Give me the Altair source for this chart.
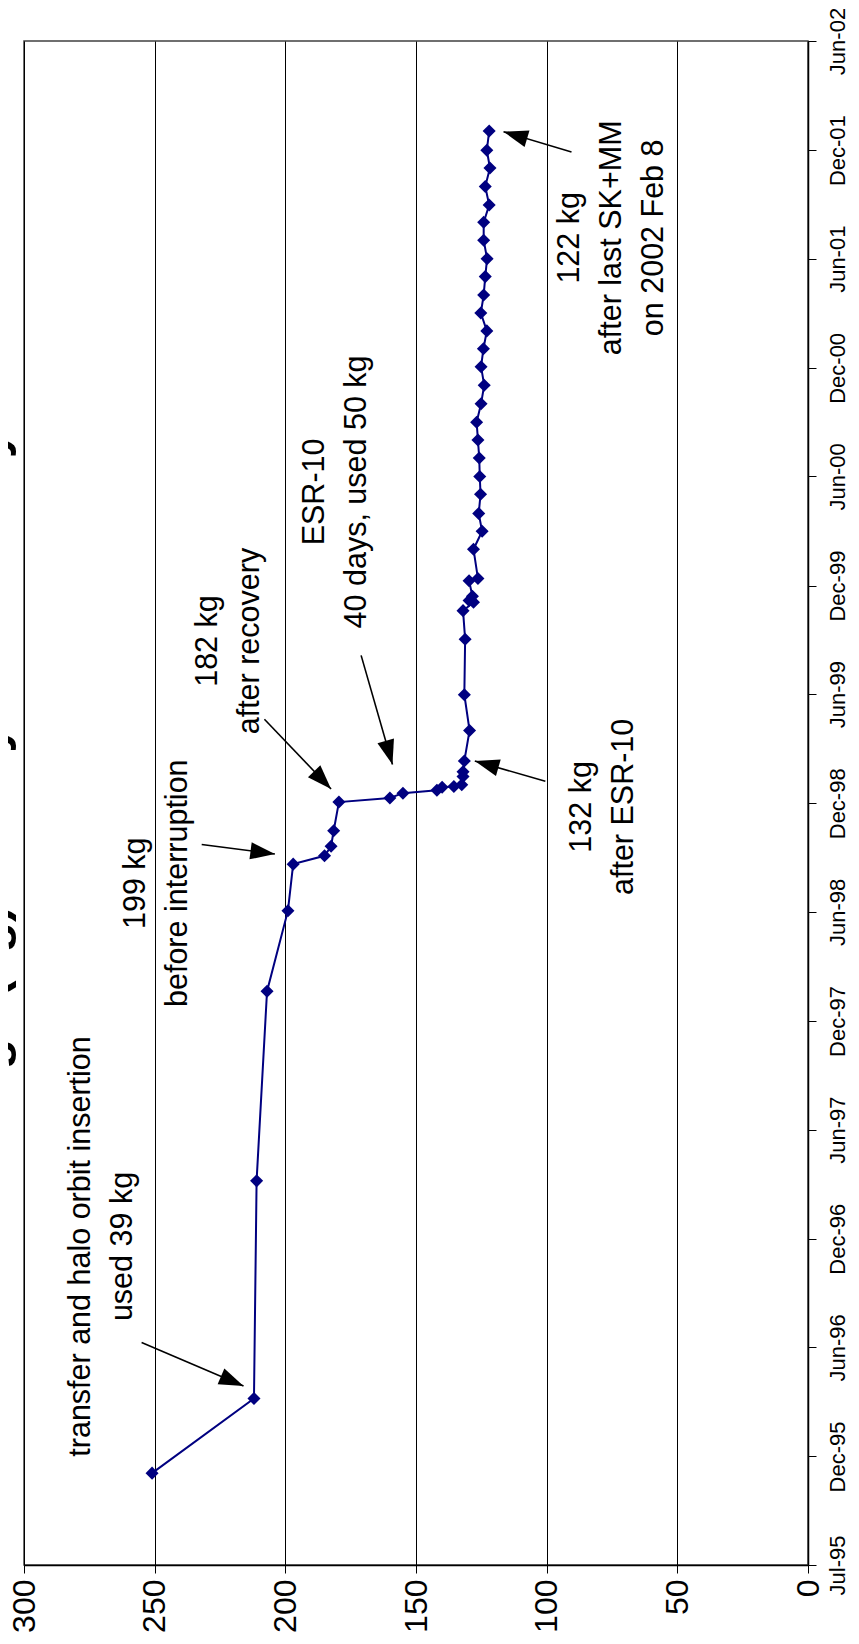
import math
import datetime as dt
import altair as alt
import pandas as pd

# ---------------- data ----------------
dates = ["1995-12-02", "1996-04-05", "1997-04-05", "1998-02-17", "1998-07-02", "1998-09-18",
         "1998-10-02", "1998-10-18", "1998-11-13", "1998-12-31", "1999-01-07", "1999-01-15",
         "1999-01-20", "1999-01-25", "1999-01-26", "1999-01-29", "1999-02-12", "1999-02-20",
         "1999-03-10", "1999-04-30", "1999-06-29", "1999-09-30", "1999-11-17", "1999-12-01",
         "1999-12-04", "1999-12-11", "2000-01-06", "2000-01-10", "2000-02-28", "2000-03-29",
         "2000-04-28", "2000-05-30", "2000-06-29", "2000-07-30", "2000-08-29", "2000-09-28",
         "2000-10-29", "2000-11-29", "2000-12-30", "2001-01-29", "2001-02-28", "2001-03-30",
         "2001-04-29", "2001-05-30", "2001-06-29", "2001-07-30", "2001-08-29", "2001-09-27",
         "2001-10-28", "2001-11-28", "2001-12-28", "2002-01-29"]
fuel = [251, 212, 211, 207, 199, 197,
        185, 182.5, 181.5, 179.5, 160, 155,
        142, 140, 135.5, 132.5, 132, 132,
        131.5, 129.5, 131.5, 131.2, 132, 128,
        129.7, 128.4, 129.7, 126.3, 128, 124.7,
        126, 125.3, 125.6, 125.8, 126.3, 126.8,
        125.1, 123.9, 125.1, 124.2, 122.9, 125.2,
        124.1, 123.5, 122.8, 124.1, 124.1, 122,
        123.5, 121.7, 122.9, 122]

tick_dates = ["1995-07-01", "1995-12-30", "1996-06-30", "1996-12-29", "1997-06-30",
              "1997-12-29", "1998-06-30", "1998-12-29", "1999-06-30", "1999-12-29",
              "2000-06-29", "2000-12-28", "2001-06-29", "2001-12-28", "2002-06-29"]
value_ticks = [0, 50, 100, 150, 200, 250, 300]

note_texts = ["transfer and halo orbit insertion\nused 39 kg",
              "199 kg\nbefore interruption",
              "182 kg\nafter recovery",
              "ESR-10\n40 days, used 50 kg",
              "132 kg\nafter ESR-10",
              "122 kg\nafter last SK+MM\non 2002 Feb 8"]
note_dates = ["1996-12-16", "1998-08-17", "1999-09-27", "2000-06-03", "1998-12-23", "2001-08-03"]
note_values = [278, 257, 229.5, 188.5, 86.5, 91]

arrow_start_dates = ["1996-07-08", "1998-10-21", "1999-05-19", "1999-09-03", "1999-02-04", "2001-12-25"]
arrow_start_values = [255, 232, 208, 171, 100.5, 90.5]
arrow_tip_dates = ["1996-04-26", "1998-10-05", "1999-01-22", "1999-03-04", "1999-03-10", "2002-01-28"]
arrow_tip_values = [216, 204, 182.5, 159, 127.5, 116.5]

title_text = "Fuel usage (kg) history of SOHO by month"

# ---------------- layout / style ----------------
W, H = 784, 1524
NAVY = "#000080"
SANS = "Liberation Sans, Arial, sans-serif"


def parse(s):
    return dt.date.fromisoformat(s)


def dtobj(s):
    d = parse(s)
    return alt.DateTime(year=d.year, month=d.month, date=d.day, utc=True)


d0, d1 = parse(tick_dates[0]), parse(tick_dates[-1])
px_day = H / (d1 - d0).days
px_kg = W / 300.0

angles = []
for sd, sv, td, tv in zip(arrow_start_dates, arrow_start_values, arrow_tip_dates, arrow_tip_values):
    dx = -(tv - sv) * px_kg
    dy = -((parse(td) - parse(sd)).days) * px_day
    angles.append(math.degrees(math.atan2(dx, -dy)) % 360)

df = pd.DataFrame({"date": dates, "value": fuel, "i": list(range(len(dates)))})
notes = pd.DataFrame({"date": note_dates, "value": note_values, "text": note_texts})
arrows = pd.DataFrame({"date": arrow_start_dates, "value": arrow_start_values,
                       "date2": arrow_tip_dates, "value2": arrow_tip_values})
heads = pd.DataFrame({"date": arrow_tip_dates, "value": arrow_tip_values, "angle": angles})
title_df = pd.DataFrame({"t": [title_text]})

x_enc = alt.X("value:Q",
              scale=alt.Scale(domain=[0, 300], reverse=True, nice=False, zero=False),
              axis=alt.Axis(values=value_ticks, title=None, labelAngle=270, labelAlign="right",
                            labelBaseline="middle", labelFontSize=32, labelFont=SANS,
                            labelColor="black", labelPadding=6, labelFlush=False,
                            labelOverlap=False, tickSize=8, tickColor="black",
                            domainColor="black", domainWidth=1.5, grid=True,
                            gridColor="black", gridWidth=1))
y_enc = alt.Y("date:T",
              scale=alt.Scale(type="utc", domain=[dtobj(tick_dates[0]), dtobj(tick_dates[-1])], nice=False),
              axis=alt.Axis(orient="right", values=[dtobj(s) for s in tick_dates],
                            labelExpr="utcFormat(datum.value, '%b-%y')",
                            title=None, labelAngle=270, labelAlign="center",
                            labelBaseline="top", labelFontSize=22, labelFont=SANS,
                            labelColor="black", labelPadding=11, labelFlush=False,
                            labelOverlap=False, tickSize=8, tickColor="black",
                            domainColor="black", domainWidth=1.5, grid=False))

line = alt.Chart(df).mark_line(color=NAVY, strokeWidth=2).encode(
    x=x_enc, y=y_enc, order=alt.Order("i:Q"))
pts = alt.Chart(df).mark_point(shape="diamond", filled=True, size=170, color=NAVY,
                               opacity=1, strokeWidth=0).encode(x=x_enc, y=y_enc)
arrow_lines = alt.Chart(arrows).mark_rule(color="black", strokeWidth=1.6).encode(
    x=x_enc, y=y_enc, x2="value2:Q", y2="date2:T")
arrow_heads = alt.Chart(heads).mark_point(shape="M0,0L-0.7,2L0.7,2Z", filled=True, size=600,
                                          color="black", opacity=1, strokeWidth=0).encode(
    x=x_enc, y=y_enc, angle=alt.Angle("angle:Q", scale=None))
note_marks = alt.Chart(notes).mark_text(angle=270, align="center", baseline="middle", fontSize=30.5,
                                        font=SANS, lineBreak="\n", lineHeight=42,
                                        color="black").encode(x=x_enc, y=y_enc, text="text:N")
title_mark = alt.Chart(title_df).mark_text(angle=270, align="left", baseline="alphabetic",
                                           fontSize=50, fontWeight="bold", font=SANS,
                                           color="black").encode(
    x=alt.value(-18), y=alt.value(1231), text="t:N")

chart = alt.layer(line, pts, arrow_lines, arrow_heads, note_marks, title_mark).properties(
    width=W, height=H,
    autosize=alt.AutoSizeParams(type="none"),
    padding={"left": 16, "top": 33, "right": 43, "bottom": 71},
    background="white",
).configure_view(stroke="#404040", strokeWidth=1.5)

chart.save("out.html", embed_options={"renderer": "svg", "actions": False})
